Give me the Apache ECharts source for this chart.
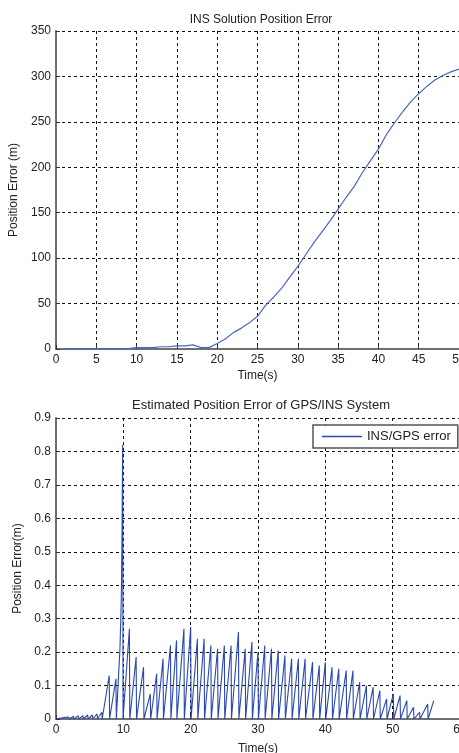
<!DOCTYPE html>
<html>
<head>
<meta charset="utf-8">
<script src="https://cdn.jsdelivr.net/npm/echarts@6/dist/echarts.min.js"></script>
<style>
  html, body { margin: 0; padding: 0; background: #fff; }
  #main { width: 459px; height: 753px; }
</style>
</head>
<body>
<div id="main"></div>
<script>
// INS only solution: position error (m) vs time (s)
var insTime = [1, 2, 3, 4, 5, 6, 7, 8, 9, 10, 11, 12, 13, 14, 15, 16, 17, 18, 19, 20,
    21, 22, 23, 24, 25, 26, 27, 28, 29, 30, 31, 32, 33, 34, 35, 36, 37, 38, 39, 40,
    41, 42, 43, 44, 45, 46, 47, 48, 49, 50];
var insErr = [0.5, 0.5, 0.5, 0.5, 0.5, 0.5, 0.5, 0.5, 0.5, 1.5, 1.5, 1.5, 2.5, 2.5, 3.5, 3.5, 4.5, 1.5, 1.5, 6,
    11, 18, 23, 29, 36, 48, 57, 67, 79, 91, 104, 117, 129, 141, 154, 167, 179, 194, 207, 220,
    236, 249, 261, 272, 281, 289, 296, 301, 305, 308];

// GPS/INS: peaks of the error between GPS updates
var peakTime = [1.2, 1.9, 2.6, 3.3, 4.0, 4.7, 5.4, 6.1, 6.8, 7.9, 8.9, 9.5, 9.7, 9.8, 9.9,
    10.9, 11.9, 13.0, 14.0, 14.95, 15.9, 17.0, 17.9, 19.0, 20.0, 21.0, 22.0, 23.0, 24.0, 25.0,
    26.0, 27.1, 28.1, 29.1, 30.0, 31.0, 32.0, 33.0, 34.0, 35.0, 36.0, 37.0, 38.1, 39.1, 40.0,
    41.0, 42.0, 43.1, 44.1, 45.1, 46.1, 47.1, 48.1, 49.1, 50.1, 51.1, 52.1, 53.1, 54.0, 55.2];
var peakErr = [0.004, 0.006, 0.008, 0.01, 0.01, 0.012, 0.012, 0.015, 0.02, 0.13, 0.12, 0.21, 0.36, 0.54, 0.82,
    0.27, 0.185, 0.155, 0.075, 0.135, 0.18, 0.22, 0.235, 0.27, 0.275, 0.24, 0.24, 0.22, 0.21, 0.22,
    0.22, 0.26, 0.21, 0.23, 0.2, 0.22, 0.21, 0.205, 0.19, 0.18, 0.18, 0.18, 0.17, 0.16, 0.17,
    0.155, 0.15, 0.145, 0.145, 0.11, 0.1, 0.095, 0.085, 0.06, 0.075, 0.07, 0.055, 0.035, 0.02, 0.045];
var endTime = 56.1, endErr = 0.055;

var xTop = [0, 50, 5];
var yTop = [0, 350, 50];
var xBot = [0, 60, 10];
var yBot = [0, 0.9, 0.1];

var lineColor = '#2a48b0';
var font = 'Arial, "Liberation Sans", sans-serif';

var topData = [];
for (var i = 0; i < insTime.length; i++) {
    topData.push([insTime[i], insErr[i]]);
}

var botData = [[0, 0]];
for (var j = 0; j < peakTime.length; j++) {
    var t = peakTime[j];
    var prev = j > 0 ? peakTime[j - 1] : 0;
    if (t - prev > 0.3) {
        botData.push([t - (t - prev) * 0.85, 0]);
        botData.push([t, peakErr[j]]);
        botData.push([t + 0.06, 0]);
    } else {
        // steps of the big spike near 10 s
        botData.pop();
        botData.push([t, peakErr[j]]);
        botData.push([t + 0.06, 0]);
    }
}
botData.push([endTime - 0.8, 0]);
botData.push([endTime, endErr]);

function axisCommon(range, fmt) {
    return {
        type: 'value',
        min: range[0],
        max: range[1],
        interval: range[2],
        axisLine: { show: true, onZero: false, lineStyle: { color: '#707070', width: 2 } },
        axisTick: { show: true, inside: true, length: 4, lineStyle: { color: '#333', width: 1 } },
        axisLabel: {
            color: '#222', fontFamily: font, fontSize: 12, margin: 5,
            formatter: fmt
        },
        splitLine: { show: true, lineStyle: { color: '#111', type: [3, 3], width: 1 } },
        nameTextStyle: { color: '#222', fontFamily: font, fontSize: 12 }
    };
}

var x0 = axisCommon(xTop);
x0.gridIndex = 0; x0.name = 'Time(s)'; x0.nameLocation = 'middle'; x0.nameGap = 21;
var y0 = axisCommon(yTop);
y0.gridIndex = 0; y0.name = 'Position Error (m)'; y0.nameLocation = 'middle'; y0.nameGap = 28;
var x1 = axisCommon(xBot);
x1.gridIndex = 1; x1.name = 'Time(s)'; x1.nameLocation = 'middle'; x1.nameGap = 24;
var y1 = axisCommon(yBot, function (v) { return v === 0 ? '0' : v.toFixed(1); });
y1.gridIndex = 1; y1.name = 'Position Error(m)'; y1.nameLocation = 'middle'; y1.nameGap = 28;

var myChart = echarts.init(document.getElementById('main'));
var option = {
    backgroundColor: '#fff',
    animation: false,
    title: [
        {
            text: 'INS Solution Position Error',
            left: 256, top: 9, textAlign: 'center',
            textStyle: { fontFamily: font, fontSize: 12, fontWeight: 'normal', color: '#222' }
        },
        {
            text: 'Estimated Position Error of GPS/INS System',
            left: 256, top: 394, textAlign: 'center',
            textStyle: { fontFamily: font, fontSize: 13, fontWeight: 'normal', color: '#222' }
        }
    ],
    legend: {
        data: ['INS/GPS error'],
        left: 313, top: 425,
        padding: [5, 7, 5, 9],
        itemWidth: 40, itemHeight: 1.5, itemGap: 4,
        borderColor: '#555', borderWidth: 1.5, borderRadius: 0,
        backgroundColor: '#fff',
        icon: 'rect',
        textStyle: { fontFamily: font, fontSize: 13, color: '#222' }
    },
    grid: [
        { left: 56, top: 31, width: 403, height: 318, outerBoundsMode: 'none', containLabel: false },
        { left: 56, top: 418, width: 404, height: 301, outerBoundsMode: 'none', containLabel: false }
    ],
    xAxis: [x0, x1],
    yAxis: [y0, y1],
    series: [
        {
            name: 'INS error',
            type: 'line',
            xAxisIndex: 0, yAxisIndex: 0,
            data: topData,
            showSymbol: false,
            lineStyle: { color: '#4a67c0', width: 1.2 },
            itemStyle: { color: '#4a67c0' }
        },
        {
            name: 'INS/GPS error',
            type: 'line',
            xAxisIndex: 1, yAxisIndex: 1,
            data: botData,
            showSymbol: false,
            lineStyle: { color: lineColor, width: 1.1 },
            itemStyle: { color: lineColor }
        }
    ]
};
myChart.setOption(option);
</script>
</body>
</html>
